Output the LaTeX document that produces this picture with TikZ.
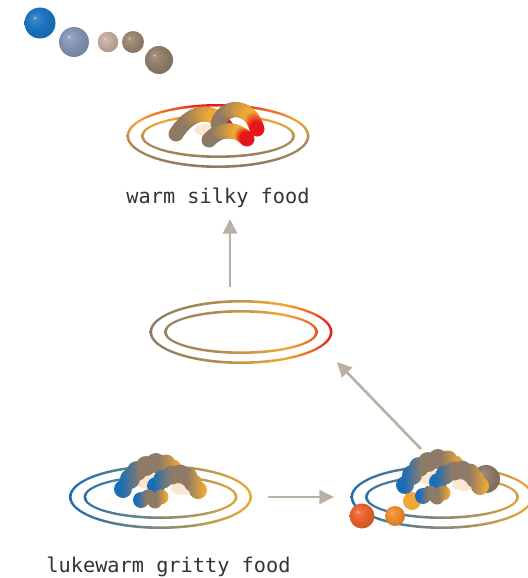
\documentclass[tikz,border=0pt]{standalone}
\usepackage{fontspec}
\newfontfamily\monofont{DejaVu Sans Mono}
\usetikzlibrary{arrows.meta}

\definecolor{dishbrown}{HTML}{8E7A64}
\definecolor{dishgold}{HTML}{F0A832}
\definecolor{dishred}{HTML}{E4161C}
\definecolor{dishblue}{HTML}{1A6DB8}
\definecolor{lumpbrown}{HTML}{8E7B67}
\definecolor{arrowgray}{HTML}{BCB0A5}
\definecolor{cream}{HTML}{FBE6D4}
\definecolor{ink}{HTML}{333333}
\definecolor{beadblue}{HTML}{1C74C2}
\definecolor{beadslate}{HTML}{8494B4}
\definecolor{beadpink}{HTML}{C4AB9E}
\definecolor{beadbrown}{HTML}{998570}
\definecolor{beadtomato}{HTML}{E8622C}
\definecolor{beadorange}{HTML}{F08A2E}

% soft spheres, light from the upper left
\colorlet{bead}{gray}
\pgfdeclareradialshading[bead]{bead}{\pgfqpoint{-9bp}{9bp}}{%
  color(0bp)=(bead!20!white); color(2.5bp)=(bead!85!white);
  color(14bp)=(bead); color(25bp)=(bead!90!black); color(50bp)=(bead!90!black)}

% plate rims
\pgfdeclareverticalshading{warmplate}{100bp}{%
  color(0bp)=(dishbrown); color(25bp)=(dishbrown); color(45bp)=(dishbrown!70!dishgold);
  color(62bp)=(dishgold); color(71bp)=(dishgold!55!dishred); color(75bp)=(dishred);
  color(100bp)=(dishred)}
\pgfdeclarehorizontalshading{heatplate}{100bp}{%
  color(0bp)=(dishbrown); color(25bp)=(dishbrown); color(45bp)=(dishbrown!60!dishgold);
  color(62bp)=(dishgold); color(70bp)=(dishgold!50!dishred); color(75bp)=(dishred);
  color(100bp)=(dishred)}
% cold lumps: blue -> brown -> gold
\pgfdeclarehorizontalshading{coldlump}{100bp}{%
  color(0bp)=(dishblue); color(30bp)=(dishblue); color(44bp)=(lumpbrown);
  color(58bp)=(lumpbrown); color(73bp)=(dishgold); color(100bp)=(dishgold)}

% two rims of a plate around one centre
\newcommand\dish[2]{%
  \shade[even odd rule,#1] #2 ellipse (91.5 and 32) ellipse (88.9 and 29.4)
    ellipse (77 and 22) ellipse (74.4 and 19.4);}

% a noodle: round blobs along a curve, brown -> gold -> red
\newcommand\worm[4]{%
  \foreach \i in {0,...,36}{%
    \pgfmathsetmacro\pa{min(100,max(0,100*(\i-9)/19))}%
    \pgfmathsetmacro\pb{max(0,100*(\i-30)/6)}%
    \pgfmathsetmacro\t{\i/36}%
    \colorlet{wormc}{dishgold!\pa!dishbrown}%
    \colorlet{wormc}{dishred!\pb!wormc}%
    \path #1 .. controls #2 and #3 .. #4 coordinate[pos=\t] (w);
    \fill[wormc] (w) circle (7.5);
  }}

% lumps of the cold food
\newcommand\lumps{%
  \fill[cream] (148,481) ellipse (12 and 8);
  \fill[cream] (182,488) ellipse (12 and 7);
  \shade[shading=coldlump] \foreach \x/\y/\r in {123/489/9, 130/479/10, 137/471/10,
    146/466/10, 156/463/10, 166/464/9.5, 173/468/8.5} {(\x,\y) circle (\r)};
  \shade[shading=coldlump] \foreach \x/\y/\r in {156/486/9, 163/479/9.5, 172/475/9.5,
    180/474/9.5, 188/477/9.5, 193/483/9, 198/490/9} {(\x,\y) circle (\r)};
  \shade[shading=coldlump] \foreach \x/\y/\r in {141/500/8, 148/497/7.5, 155/501/7.5,
    161/497/7.5} {(\x,\y) circle (\r)};}

\begin{document}
\begin{tikzpicture}
    [
    x=0.75pt, y=-0.75pt,
    flow/.style={draw=arrowgray, line width=2pt, -{Triangle[width=10.5pt,length=11pt]}},
    dishlabel/.style={font=\fontsize{15.2}{18}\selectfont\monofont, text=ink, anchor=base, inner sep=0pt},
    sphere/.style={/utils/exec={\colorlet{bead}{#1}}, shading=bead},
    coldplate/.style={left color=dishblue, middle color=lumpbrown, right color=dishgold},
    ]
    \useasboundingbox (0,0) rectangle (528,578);

    % spheres in the corner
    \shade[sphere=beadblue] (40,23) circle (15.5);
    \shade[sphere=beadslate] (74,42) circle (15);
    \shade[sphere=beadpink] (108,42) circle (10.3);
    \shade[sphere=beadbrown] (133,42) circle (11);
    \shade[sphere=beadbrown!95!black] (159,60) circle (14);

    % warm plate with noodles
    \dish{shading=warmplate}{(218,136)}
    \fill[cream] (208,130) ellipse (14 and 6);
    \worm{(176,134)}{(190,112)}{(210,106)}{(226,127)}
    \worm{(218,124)}{(224,104)}{(250,104)}{(257,129)}
    \worm{(209,140)}{(220,128)}{(236,128)}{(247,139)}
    \node[dishlabel] (warm) at (218,203) {warm silky food};

    % empty plate
    \dish{shading=heatplate}{(241,332)}

    % cold plate
    \dish{coldplate}{(160.5,497)}
    \lumps
    \node[dishlabel] (cold) at (168.5,572) {lukewarm gritty food};

    % plate being heated
    \dish{coldplate}{(442,497)}
    \shade[sphere=lumpbrown] (486,479) circle (14);
    \fill[dishgold] (412,501) circle (9);
    \begin{scope}[shift={(282,-4)}]
      \lumps
    \end{scope}
    \shade[sphere=beadtomato] (362,516) circle (12.5);
    \shade[sphere=beadorange] (395,516) circle (10);

    % flow between the plates
    \coordinate (up0) at (230,287);
    \coordinate (up1) at (230,219);
    \coordinate (right0) at (268,497);
    \coordinate (right1) at (334,497);
    \coordinate (diag0) at (421,449);
    \coordinate (diag1) at (337,362);
    \draw[flow] (up0) -- (up1);
    \draw[flow] (right0) -- (right1);
    \draw[flow] (diag0) -- (diag1);
\end{tikzpicture}
\end{document}
